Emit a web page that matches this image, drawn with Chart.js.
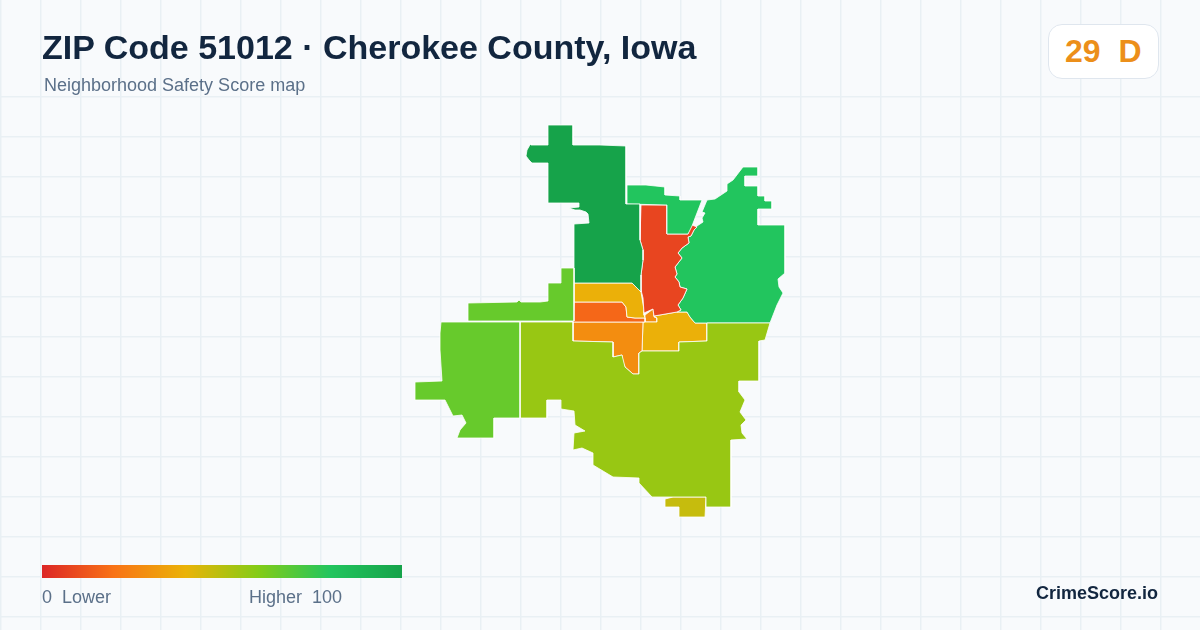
<!DOCTYPE html>
<html>
<head>
<meta charset="utf-8">
<title>ZIP Code 51012</title>
<script src="https://cdn.jsdelivr.net/npm/chart.js@4"></script>
<style>
    html, body { margin: 0; padding: 0; background: #f8fafc; }
    body { position: relative; width: 1200px; height: 630px; overflow: hidden; font-family: "Liberation Sans", Arial, sans-serif; }
    #map { position: absolute; left: 0; top: 0; width: 1200px; height: 630px; }
    .txt { position: absolute; white-space: pre; line-height: 1; }
    #title { left: 42px; top: 30px; font-size: 34px; font-weight: 700; color: #12263f; }
    #subtitle { left: 44px; top: 76px; font-size: 18px; color: #5b7089; }
    #badge { position: absolute; left: 1048px; top: 24px; width: 109px; height: 53px; background: #fff; border: 1px solid #dfe6ee; border-radius: 14px; }
    #score { left: 1065px; top: 35px; font-size: 32px; font-weight: 700; color: #ec8f1a; }
    #bar { position: absolute; left: 42px; top: 565px; width: 360px; height: 13px; }
    #low { left: 42px; top: 588px; font-size: 18px; color: #5b7089; }
    #high { left: 249px; top: 588px; font-size: 18px; color: #5b7089; }
    #brand { right: 42px; top: 584px; font-size: 18px; font-weight: 700; color: #12263f; }
</style>
</head>
<body>
<canvas id="map" width="1200" height="630"></canvas>
<div class="txt" id="title">ZIP Code 51012 · Cherokee County, Iowa</div>
<div class="txt" id="subtitle">Neighborhood Safety Score map</div>
<div id="badge"></div>
<div class="txt" id="score">29  D</div>
<div id="bar"></div>
<div class="txt" id="low">0  Lower</div>
<div class="txt" id="high">Higher  100</div>
<div class="txt" id="brand">CrimeScore.io</div>
<script>
// Outlines, in map units
const northWest = [[548,125],[573,125],[573,145],[600,145],[626,146],[626,204],[640,204],[640,240],[643,250],[643,260],[641,275],[641,292],[632,283],[574,283],[574,224],[589,223],[588,214],[586,212],[580,210],[575,210],[569,208],[579,207],[579,203],[548,203],[548,163],[532,163],[529,160],[526,156],[527,150],[531,143],[531,145],[548,145]];
const northStrip = [[627,185],[646,185],[665,187],[665,195],[680,196],[680,200],[702,200],[692,226],[688,234],[667,234],[667,205],[627,204]];
const riverWest = [[641,205],[667,205],[667,234],[688,234],[690,228],[692,225],[697,227],[694,230],[691,236],[688,237],[689,243],[682,248],[678,253],[682,258],[675,267],[677,274],[675,277],[679,282],[680,287],[687,289],[683,298],[678,305],[681,310],[677,312],[654,316],[653,309],[644,313],[643,298],[641,290],[641,275],[643,260],[643,250],[640,240]];
const eastSide = [[697,226],[703,222],[702,218],[705,213],[702,212],[707,200],[715,199],[727,191],[727,184],[733,180],[743,167],[758,167],[758,176],[745,176],[745,186],[758,186],[758,196],[765,196],[765,201],[772,201],[772,209],[758,209],[758,225],[785,225],[785,273],[778,279],[779,287],[783,293],[777,305],[770,323],[695,323],[690,317],[687,312],[677,312],[681,310],[678,305],[683,298],[687,289],[680,287],[679,282],[675,277],[677,274],[675,267],[682,258],[678,253],[682,248],[689,243],[688,237],[691,236],[694,230]];
const centerNorth = [[574,283],[632,283],[641,292],[644,310],[644,315],[645,318],[635,318],[627,317],[626,307],[622,302],[574,302]];
const centerMiddle = [[574,302],[622,302],[626,307],[627,317],[635,318],[645,318],[645,322],[573,322]];
const centerSouth = [[573,322],[643,322],[642,351],[639,353],[639,374],[633,374],[625,367],[623,362],[622,355],[613,357],[613,342],[573,341]];
const centerEast = [[645,322],[657,322],[657,318],[654,316],[677,312],[687,312],[690,317],[695,323],[707,323],[707,341],[679,342],[679,351],[642,351],[643,322]];
const junction = [[653,309],[654,317],[657,318],[657,322],[645,322],[645,315]];
const southMain = [[520,322],[573,322],[573,341],[613,342],[613,357],[622,355],[625,367],[633,374],[639,374],[639,353],[642,351],[679,351],[679,342],[707,341],[707,323],[770,323],[765,340],[759,341],[759,381],[739,381],[739,392],[745,400],[740,412],[746,420],[741,425],[742,433],[747,439],[731,440],[731,507],[706,507],[706,497],[652,497],[639,483],[639,478],[613,477],[593,465],[593,453],[582,448],[573,450],[574,433],[585,431],[575,425],[574,411],[561,409],[561,400],[547,400],[547,418],[520,418]];
const southTip = [[665,499],[673,497],[706,497],[705,517],[679,517],[679,507],[665,507]];
const westStrip = [[468,303],[517,302],[519,300],[521,302],[540,302],[548,301],[548,283],[561,283],[561,268],[574,268],[574,321],[468,321]];
const westMain = [[441,322],[520,322],[520,418],[494,418],[494,438],[457,438],[460,430],[466,423],[462,415],[453,416],[445,400],[415,400],[415,382],[442,381],[440,350],[440,333]];

const regions = [westStrip, westMain, southMain, southTip, northWest, northStrip, riverWest, eastSide, centerNorth, centerMiddle, centerSouth, centerEast, junction];
const scores = [66, 66, 56, 47, 100, 80, 8, 80, 39, 17, 28, 39, 28];

const legendStops = [0, 20, 40, 60, 80, 100];
const legendColors = ['#dc2626', '#f97316', '#eab308', '#84cc16', '#22c55e', '#16a34a'];

const gridX = [];
for (let v = 1; v <= 1200; v += 40) gridX.push(v);
const gridY = [];
for (let v = 97; v <= 630; v += 40) gridY.push(v);

// Same colour ramp as the legend bar
function scoreColor(score) {
    let i = 0;
    while (i < legendStops.length - 2 && score > legendStops[i + 1]) i++;
    const t = (score - legendStops[i]) / (legendStops[i + 1] - legendStops[i]);
    const rgb = [1, 3, 5].map(p => {
        const a = parseInt(legendColors[i].substr(p, 2), 16);
        const b = parseInt(legendColors[i + 1].substr(p, 2), 16);
        return Math.round(a + (b - a) * t);
    });
    return 'rgb(' + rgb.join(',') + ')';
}

document.getElementById('bar').style.background = 'linear-gradient(to right, ' +
    legendColors.map((c, i) => c + ' ' + legendStops[i] + '%').join(', ') + ')';

const gridLine = { color: '#e9f0f4', lineWidth: 1.5, drawTicks: false };

new Chart(document.getElementById('map').getContext('2d'), {
    type: 'scatter',
    data: {
        datasets: regions.map((outline, i) => ({
            data: outline.concat([outline[0]]).map(p => ({ x: p[0], y: p[1] })),
            showLine: true,
            fill: 'shape',
            tension: 0,
            pointRadius: 0,
            backgroundColor: scoreColor(scores[i]),
            borderColor: '#ffffff',
            borderWidth: 0.8
        }))
    },
    options: {
        responsive: false,
        animation: false,
        layout: { padding: 0 },
        plugins: { legend: { display: false }, tooltip: { enabled: false } },
        scales: {
            x: {
                type: 'linear', min: 0, max: 1200,
                grid: gridLine,
                border: { display: false },
                ticks: { display: false, autoSkip: false },
                afterBuildTicks: axis => { axis.ticks = gridX.map(v => ({ value: v })); }
            },
            y: {
                type: 'linear', min: 0, max: 630, reverse: true,
                grid: gridLine,
                border: { display: false },
                ticks: { display: false, autoSkip: false },
                afterBuildTicks: axis => { axis.ticks = gridY.map(v => ({ value: v })); }
            }
        }
    }
});
</script>
</body>
</html>
